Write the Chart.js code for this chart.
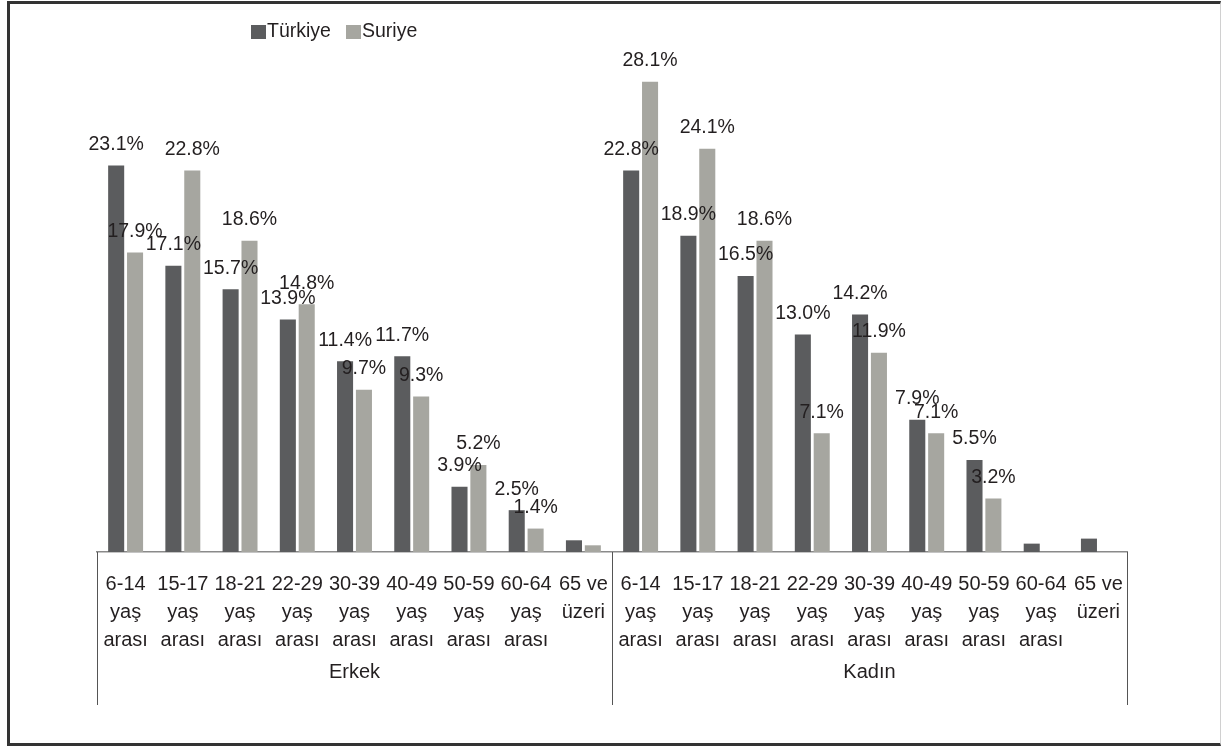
<!DOCTYPE html>
<html>
<head>
<meta charset="utf-8">
<script src="https://cdn.jsdelivr.net/npm/chart.js@4/dist/chart.umd.min.js"></script>
<style>
  html, body { margin: 0; padding: 0; background: #ffffff; }
  #wrap { position: absolute; left: 0; top: 0; width: 1225px; height: 747px; }
  #frame { position: absolute; left: 7px; top: 1px; width: 1214px; height: 745px;
           border-left: 3px solid #333; border-top: 3px solid #333; border-bottom: 3px solid #333;
           border-right: 1px solid #d0d0d0; box-sizing: border-box; pointer-events: none; }
</style>
</head>
<body>
<div id="wrap"><canvas id="c"></canvas></div>
<div id="frame"></div>
<script>
const ageLabels = [
  ['6-14', 'yaş', 'arası'],
  ['15-17', 'yaş', 'arası'],
  ['18-21', 'yaş', 'arası'],
  ['22-29', 'yaş', 'arası'],
  ['30-39', 'yaş', 'arası'],
  ['40-49', 'yaş', 'arası'],
  ['50-59', 'yaş', 'arası'],
  ['60-64', 'yaş', 'arası'],
  ['65 ve', 'üzeri']
];
const groups = ['Erkek', 'Kadın'];
const seriesNames = ['Türkiye', 'Suriye'];
const turkiye = [23.1, 17.1, 15.7, 13.9, 11.4, 11.7, 3.9, 2.5, 0.7,
                 22.8, 18.9, 16.5, 13.0, 14.2, 7.9, 5.5, 0.5, 0.8];
const suriye  = [17.9, 22.8, 18.6, 14.8, 9.7, 9.3, 5.2, 1.4, 0.4,
                 28.1, 24.1, 18.6, 7.1, 11.9, 7.1, 3.2, 0, 0];
const yMin = 0, yMax = 30;

const labels = [];
groups.forEach(() => ageLabels.forEach(a => labels.push(a)));

const FONT = '"Liberation Sans", Arial, sans-serif';
const TEXT = '#231f20';
const C_TR = '#5b5c5e';
const C_SY = '#a6a6a0';

const extras = {
  id: 'extras',
  afterDatasetsDraw(chart) {
    const ctx = chart.ctx;
    ctx.save();
    ctx.font = '19.5px ' + FONT;
    ctx.fillStyle = TEXT;
    ctx.textAlign = 'center';
    ctx.textBaseline = 'middle';
    chart.data.datasets.forEach((ds, di) => {
      const meta = chart.getDatasetMeta(di);
      meta.data.forEach((bar, i) => {
        const v = ds.data[i];
        if (v >= 1) ctx.fillText(v.toFixed(1) + '%', bar.x, bar.y - 21);
      });
    });
    ctx.restore();
  },
  afterDraw(chart) {
    const ctx = chart.ctx;
    const xs = chart.scales.x;
    const area = chart.chartArea;
    const n = ageLabels.length;
    const step = xs.getPixelForValue(1) - xs.getPixelForValue(0);
    const bounds = [];
    for (let g = 0; g <= groups.length; g++) bounds.push(xs.getPixelForValue(g * n) - step / 2);
    ctx.save();
    ctx.strokeStyle = '#555';
    ctx.lineWidth = 1;
    bounds.forEach(x => {
      const xx = Math.round(x) + 0.5;
      ctx.beginPath(); ctx.moveTo(xx, area.bottom); ctx.lineTo(xx, 705); ctx.stroke();
    });
    ctx.font = '20px ' + FONT;
    ctx.fillStyle = TEXT;
    ctx.textAlign = 'center';
    ctx.textBaseline = 'middle';
    groups.forEach((g, gi) => ctx.fillText(g, (bounds[gi] + bounds[gi + 1]) / 2, 672));
    // legend
    const colors = [C_TR, C_SY];
    const lx = [251, 346];
    ctx.font = '19.5px ' + FONT;
    ctx.textAlign = 'left';
    seriesNames.forEach((s, i) => {
      ctx.fillStyle = colors[i];
      ctx.fillRect(lx[i], 25, 15, 14);
      ctx.fillStyle = TEXT;
      ctx.fillText(s, lx[i] + 16, 32);
    });
    ctx.restore();
  }
};

new Chart(document.getElementById('c'), {
  type: 'bar',
  data: {
    labels: labels,
    datasets: [
      { label: seriesNames[0], data: turkiye, backgroundColor: C_TR,
        categoryPercentage: 0.66, barPercentage: 0.85 },
      { label: seriesNames[1], data: suriye, backgroundColor: C_SY,
        categoryPercentage: 0.66, barPercentage: 0.85 }
    ]
  },
  options: {
    responsive: true,
    maintainAspectRatio: false,
    animation: false,
    layout: { padding: { left: 97, right: 98, top: 50, bottom: 0 } },
    plugins: { legend: { display: false }, tooltip: { enabled: false } },
    scales: {
      x: {
        grid: { display: false, drawTicks: false },
        border: { display: true, color: '#8a8a8a', width: 1.5 },
        ticks: { color: TEXT, font: { family: FONT, size: 20, lineHeight: 1.4 },
                 padding: 18, autoSkip: false, maxRotation: 0, minRotation: 0 },
        afterFit(scale) { scale.height = 195; }
      },
      y: { display: false, min: yMin, max: yMax }
    }
  },
  plugins: [extras]
});
</script>
</body>
</html>
